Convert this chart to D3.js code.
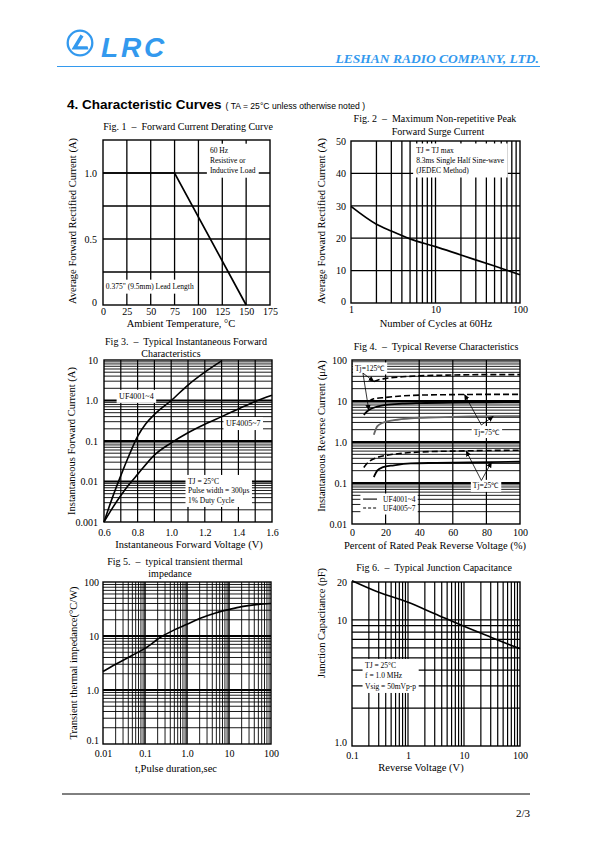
<!DOCTYPE html>
<html><head><meta charset="utf-8">
<script src="https://cdn.jsdelivr.net/npm/d3@7"></script>
<style>
body{margin:0;background:#fff}
</style></head><body>
<svg id="page" width="595" height="842"></svg>
<script>
// ================= DATA =================
// Fig 1 – Forward current derating
const fig1Temp = [0, 75, 150];
const fig1Current = [1.0, 1.0, 0];
const fig1XTicks = [0, 25, 50, 75, 100, 125, 150, 175];
const fig1YTicks = [0, 0.5, 1.0];
const fig1YLabels = ["0", "0.5", "1.0"];
const fig1YGrid = [0.25, 0.5, 0.75, 1.0];

// Fig 2 – Max non-repetitive peak forward surge current
const fig2Cycles = [1, 2, 3, 5, 10, 20, 50, 70, 100];
const fig2Current = [29.8, 24.3, 22.2, 19.8, 17.4, 14.8, 11.4, 10.1, 8.7];
const fig2XTicks = [1, 10, 100];
const fig2YTicks = [0, 10, 20, 30, 40, 50];

// Fig 3 – Typical instantaneous forward characteristics
const fig3V_A = [0.6, 0.65, 0.7, 0.75, 0.8, 0.85, 0.9, 1.0, 1.1, 1.2, 1.3];
const fig3I_A = [0.001, 0.004, 0.014, 0.045, 0.13, 0.27, 0.45, 1.0, 2.4, 5.0, 9.5];
const fig3V_B = [0.6, 0.65, 0.7, 0.75, 0.8, 0.9, 1.0, 1.1, 1.2, 1.3, 1.4, 1.5, 1.6];
const fig3I_B = [0.001, 0.0022, 0.0045, 0.0085, 0.015, 0.045, 0.09, 0.16, 0.26, 0.4, 0.62, 0.95, 1.35];
const fig3XTicks = [0.6, 0.8, 1.0, 1.2, 1.4, 1.6];
const fig3XLabels = ["0.6", "0.8", "1.0", "1.2", "1.4", "1.6"];
const fig3XGrid = [0.7, 0.8, 0.9, 1.0, 1.1, 1.2, 1.3, 1.4, 1.5];
const fig3YTicks = [0.001, 0.01, 0.1, 1, 10];
const fig3YLabels = ["0.001", "0.01", "0.1", "1.0", "10"];

// Fig 4 – Typical reverse characteristics (µA vs % of rated voltage)
const fig4Pct125A = [7, 10, 15, 20, 30, 40, 60, 80, 100];
const fig4Cur125A = [4.6, 6.0, 7.3, 8.0, 8.6, 8.9, 9.2, 9.3, 9.4];      // UF4001~4
const fig4Pct125B = [13, 16, 20, 30, 40, 60, 80, 100];
const fig4Cur125B = [30, 33, 35.5, 39, 41, 43, 44, 44];                 // UF4005~7
const fig4Pct75A = [13, 15, 18, 25, 35, 50, 70, 100];
const fig4Cur75A = [1.5, 2.4, 2.9, 3.4, 3.8, 4.0, 4.2, 4.3];
const fig4Pct75B = [10, 13, 20, 30, 40, 60, 80, 100];
const fig4Cur75B = [9.8, 11.3, 12.2, 13.3, 13.9, 14.3, 14.5, 14.5];
const fig4Pct25A = [13, 15, 18, 25, 35, 50, 70, 100];
const fig4Cur25A = [0.14, 0.2, 0.24, 0.27, 0.3, 0.31, 0.32, 0.33];
const fig4Pct25B = [7, 10, 15, 20, 30, 40, 60, 80, 100];
const fig4Cur25B = [0.24, 0.33, 0.42, 0.47, 0.53, 0.57, 0.6, 0.62, 0.63];
const fig4XTicks = [0, 20, 40, 60, 80, 100];
const fig4XGrid = [20, 40, 60, 80];
const fig4YTicks = [0.01, 0.1, 1, 10, 100];
const fig4YLabels = ["0.01", "0.1", "1.0", "10", "100"];

// Fig 5 – Typical transient thermal impedance
const fig5Time = [0.01, 0.02, 0.05, 0.1, 0.25, 0.5, 1, 2, 5, 10, 20, 50, 100];
const fig5Imp = [2.2, 3.0, 4.4, 5.9, 9.8, 13, 16.5, 21, 27, 31, 35, 38.5, 40];
const fig5XTicks = [0.01, 0.1, 1, 10, 100];
const fig5XLabels = ["0.01", "0.1", "1.0", "10", "100"];
const fig5YTicks = [0.1, 1, 10, 100];
const fig5YLabels = ["0.1", "1.0", "10", "100"];

// Fig 6 – Typical junction capacitance
const fig6Volt = [0.1, 0.3, 1, 3, 10, 30, 100];
const fig6Cap = [20.5, 16.6, 13.8, 11.2, 8.9, 7.3, 5.9];
const fig6XTicks = [0.1, 1, 10, 100];
const fig6XLabels = ["0.1", "1", "10", "100"];
const fig6YTicks = [1, 10, 20];
const fig6YLabels = ["1.0", "10", "20"];
const fig6YGrid = [2, 3, 4, 5, 6, 7, 8, 9, 10];

// ================= DRAWING =================
const SERIF = '"Liberation Serif","Times New Roman",serif';
const SANS = '"Liberation Sans",Arial,sans-serif';
const BLUE = '#3399ee';
const svg = d3.select('#page');
svg.append('rect').attr('width', 595).attr('height', 842).attr('fill', '#fff');

svg.append('defs').append('marker')
  .attr('id', 'arr').attr('viewBox', '0 0 8 8').attr('refX', 7).attr('refY', 4)
  .attr('markerWidth', 6).attr('markerHeight', 6).attr('markerUnits', 'userSpaceOnUse')
  .attr('orient', 'auto')
  .append('path').attr('d', 'M0,0.5 L8,4 L0,7.5 Z').attr('fill', '#000');

// ---- header ----
const logo = svg.append('g').attr('transform', 'translate(80,43)');
logo.append('circle').attr('r', 12.3).attr('fill', 'none').attr('stroke', BLUE).attr('stroke-width', 2.3);
logo.append('path').attr('d', 'M-8.5,6.5 L8.5,6.5 L7.5,3.3 L-2.5,3.3 L3.5,-6.5 L0.5,-8.5 Z M-2,-1 L-6,5 L-4,5 Z')
  .attr('fill', BLUE);
svg.append('text').attr('x', 101).attr('y', 56.5).text('LRC')
  .attr('font-family', SANS).attr('font-weight', 'bold').attr('font-style', 'italic')
  .attr('font-size', 28).attr('letter-spacing', 2.8).attr('fill', BLUE);
svg.append('text').attr('x', 539).attr('y', 62.5).attr('text-anchor', 'end')
  .text('LESHAN RADIO COMPANY, LTD.')
  .attr('font-family', SERIF).attr('font-weight', 'bold').attr('font-style', 'italic')
  .attr('font-size', 13.5).attr('fill', BLUE);
svg.append('line').attr('x1', 57).attr('x2', 540).attr('y1', 66.5).attr('y2', 66.5)
  .attr('stroke', BLUE).attr('stroke-width', 1.2);

const head = svg.append('text').attr('x', 67).attr('y', 109).text('4. Characteristic Curves')
  .attr('font-family', SANS).attr('font-weight', 'bold').attr('font-size', 13.5);
const hw = head.node().getComputedTextLength();
svg.append('text').attr('x', 67 + hw + 4).attr('y', 108.5).text('( TA = 25°C unless otherwise noted )')
  .attr('font-family', SANS).attr('font-size', 8.6);

// footer
svg.append('line').attr('x1', 62).attr('x2', 530).attr('y1', 794).attr('y2', 794)
  .attr('stroke', '#000').attr('stroke-width', 1);
svg.append('text').attr('x', 530).attr('y', 817).attr('text-anchor', 'end').text('2/3')
  .attr('font-family', SERIF).attr('font-size', 11);

// ---- helpers ----
function vGrid(g, xs, ys, vals, w) {
  g.append('g').selectAll('line').data(vals).join('line')
    .attr('x1', d => xs(d)).attr('x2', d => xs(d))
    .attr('y1', ys.range()[0]).attr('y2', ys.range()[1])
    .attr('stroke', '#000').attr('stroke-width', typeof w === 'function' ? w : () => w);
}
function hGrid(g, xs, ys, vals, w) {
  g.append('g').selectAll('line').data(vals).join('line')
    .attr('y1', d => ys(d)).attr('y2', d => ys(d))
    .attr('x1', xs.range()[0]).attr('x2', xs.range()[1])
    .attr('stroke', '#000').attr('stroke-width', typeof w === 'function' ? w : () => w);
}
function frame(g, xs, ys) {
  const [x0, x1] = xs.range(), [y0, y1] = ys.range();
  g.append('rect').attr('x', x0).attr('y', y1).attr('width', x1 - x0).attr('height', y0 - y1)
    .attr('fill', 'none').attr('stroke', '#000').attr('stroke-width', 1.4);
}
function styleAxis(a) {
  a.select('.domain').remove();
  a.attr('font-family', SERIF).attr('font-size', 10);
  a.selectAll('text').attr('fill', '#000');
  return a;
}
function xAxis(g, xs, ys, ticks, labels, pad) {
  const a = g.append('g').attr('transform', `translate(0,${ys.range()[0]})`)
    .call(d3.axisBottom(xs).tickValues(ticks).tickFormat((d, i) => labels[i]).tickSize(0).tickPadding(pad));
  return styleAxis(a);
}
function yAxis(g, xs, ys, ticks, labels, pad) {
  const a = g.append('g').attr('transform', `translate(${xs.range()[0]},0)`)
    .call(d3.axisLeft(ys).tickValues(ticks).tickFormat((d, i) => labels[i]).tickSize(0).tickPadding(pad));
  return styleAxis(a);
}
function titleLines(g, lines, cx, y0, lh) {
  lines.forEach((s, i) => g.append('text').attr('x', cx[i]).attr('y', y0 + i * lh)
    .attr('text-anchor', 'middle').attr('font-family', SERIF).attr('font-size', 10)
    .style('white-space', 'pre').text(s));
}
function xTitle(g, s, cx, y) {
  g.append('text').attr('x', cx).attr('y', y).attr('text-anchor', 'middle')
    .attr('font-family', SERIF).attr('font-size', 10.5).text(s);
}
function yTitle(g, s, x, cy) {
  g.append('text').attr('transform', `translate(${x},${cy}) rotate(-90)`).attr('text-anchor', 'middle')
    .attr('dy', '0.35em').attr('font-family', SERIF).attr('font-size', 10.5).text(s);
}
function note(g, lines, x, y, opt = {}) {
  const fs = opt.fs || 7.5, lh = opt.lh || 10, anchor = opt.anchor || 'start', p = opt.pad ?? 2.5;
  const bg = g.append('rect').attr('fill', '#fff');
  const t = g.append('text').attr('font-family', SERIF).attr('font-size', fs).attr('text-anchor', anchor);
  lines.forEach((s, i) => t.append('tspan').attr('x', x).attr('y', y + i * lh).text(s));
  const b = t.node().getBBox();
  bg.attr('x', b.x - p).attr('y', b.y - p + 0.5).attr('width', b.width + 2 * p).attr('height', b.height + 2 * p - 1);
  return b;
}
function curve(g, xs, ys, X, Y, opt = {}) {
  const line = d3.line().x(d => xs(d[0])).y(d => ys(d[1])).curve(opt.straight ? d3.curveLinear : d3.curveMonotoneX);
  g.append('path').attr('d', line(d3.zip(X, Y))).attr('fill', 'none')
    .attr('stroke', opt.color || '#000').attr('stroke-width', opt.w || 1.6)
    .attr('stroke-dasharray', opt.dash || null);
}
const logInner = s => s.ticks().filter(v => v > s.domain()[0] * 1.0001 && v < s.domain()[1] * 0.9999);
const isDecade = v => Math.abs(Math.log10(v) - Math.round(Math.log10(v))) < 1e-6;
function raiseFirst(a, dy) { a.selectAll('.tick text').filter((d, i) => i === 0).attr('dy', dy); }

// ---------- Fig 1 ----------
{
  const g = svg.append('g');
  const xs = d3.scaleLinear().domain([0, 175]).range([103, 270]);
  const ys = d3.scaleLinear().domain([0, 1.25]).range([305, 140]);
  vGrid(g, xs, ys, fig1XTicks.slice(1, -1), 1.3);
  hGrid(g, xs, ys, fig1YGrid, 1.3);
  note(g, ['60 Hz', 'Resistive or', 'Inductive Load'], xs(112), ys(1.15), { pad: 3 });
  note(g, ['0.375" (9.5mm) Lead Length'], xs(3), ys(0.12), { pad: 3 });
  curve(g, xs, ys, fig1Temp, fig1Current, { straight: true, w: 1.7 });
  frame(g, xs, ys);
  xAxis(g, xs, ys, fig1XTicks, fig1XTicks.map(String), 2.5);
  const ya = yAxis(g, xs, ys, fig1YTicks, fig1YLabels, 6);
  raiseFirst(ya, '0.05em');
  titleLines(g, ['Fig. 1  –  Forward Current Derating Curve'], [188], 130, 13);
  xTitle(g, 'Ambient Temperature, °C', 181, 326.5);
  yTitle(g, 'Average Forward Rectified Current (A)', 72, 221);
}

// ---------- Fig 2 ----------
{
  const g = svg.append('g');
  const xs = d3.scaleLog().domain([1, 100]).range([351, 520]);
  const ys = d3.scaleLinear().domain([0, 50]).range([303, 141]);
  vGrid(g, xs, ys, logInner(xs), 1.3);
  hGrid(g, xs, ys, fig2YTicks.slice(1, -1), 1.3);
  note(g, ['TJ = TJ max', '8.3ms Single Half Sine-wave', '(JEDEC Method)'], xs(5.9), ys(46.3), { pad: 3 });
  curve(g, xs, ys, fig2Cycles, fig2Current, { w: 1.7 });
  frame(g, xs, ys);
  xAxis(g, xs, ys, fig2XTicks, fig2XTicks.map(String), 3);
  const ya = yAxis(g, xs, ys, fig2YTicks, fig2YTicks.map(String), 5);
  raiseFirst(ya, '0.1em');
  titleLines(g, ['Fig. 2  –  Maximum Non-repetitive Peak', 'Forward Surge Current'], [435, 438], 122, 13);
  xTitle(g, 'Number of Cycles at 60Hz', 436, 326.5);
  yTitle(g, 'Average Forward Rectified Current (A)', 321, 221);
}

// ---------- Fig 3 ----------
{
  const g = svg.append('g');
  const xs = d3.scaleLinear().domain([0.6, 1.6]).range([104, 272]);
  const ys = d3.scaleLog().domain([0.001, 10]).range([522, 360]);
  vGrid(g, xs, ys, fig3XGrid, 1.2);
  hGrid(g, xs, ys, logInner(ys), d => isDecade(d) ? 1.8 : 0.9);
  note(g, ['UF4001~4'], xs(0.69), ys(1.1), { fs: 8, pad: 2.5 });
  note(g, ['UF4005~7'], xs(1.326), ys(0.234), { fs: 8, pad: 2.5 });
  note(g, ['TJ = 25°C', 'Pulse width = 300μs', '1% Duty Cycle'], xs(1.1), ys(0.0087), { fs: 7.5, lh: 9.5, pad: 2.5 });
  curve(g, xs, ys, fig3V_A, fig3I_A);
  curve(g, xs, ys, fig3V_B, fig3I_B);
  frame(g, xs, ys);
  xAxis(g, xs, ys, fig3XTicks, fig3XLabels, 7);
  yAxis(g, xs, ys, fig3YTicks, fig3YLabels, 6);
  titleLines(g, ['Fig 3.  –  Typical Instantaneous Forward', 'Characteristics'], [186, 171], 345, 11.5);
  xTitle(g, 'Instantaneous Forward Voltage (V)', 189, 548);
  yTitle(g, 'Instantaneous Forward Current (A)', 71, 441);
}

// ---------- Fig 4 ----------
{
  const g = svg.append('g');
  const xs = d3.scaleLinear().domain([0, 100]).range([352, 520]);
  const ys = d3.scaleLog().domain([0.01, 100]).range([524, 360]);
  vGrid(g, xs, ys, fig4XGrid, 1.2);
  hGrid(g, xs, ys, logInner(ys), d => isDecade(d) ? 1.8 : 0.9);
  note(g, ['Tj=125℃'], xs(1.8), ys(54), { fs: 7.5, pad: 2 });
  note(g, ['Tj=75℃'], xs(80), ys(1.52), { fs: 7.5, pad: 2, anchor: 'middle' });
  note(g, ['Tj=25℃'], xs(79.5), ys(0.074), { fs: 7.5, pad: 2, anchor: 'middle' });
  // legend
  const lb = note(g, ['UF4001~4', 'UF4005~7'], xs(18.5), ys(0.0344), { fs: 7.5, lh: 9, pad: 2 });
  g.append('rect').attr('x', xs(5)).attr('y', lb.y - 2).attr('width', xs(18.5) - xs(5)).attr('height', lb.height + 3).attr('fill', '#fff');
  g.append('line').attr('x1', xs(6.6)).attr('x2', xs(14.9)).attr('y1', ys(0.0405)).attr('y2', ys(0.0405)).attr('stroke', '#000').attr('stroke-width', 1.1);
  g.append('line').attr('x1', xs(6.6)).attr('x2', xs(14.9)).attr('y1', ys(0.0245)).attr('y2', ys(0.0245)).attr('stroke', '#000').attr('stroke-width', 1.1).attr('stroke-dasharray', '3,2');

  curve(g, xs, ys, fig4Pct125B, fig4Cur125B, { dash: '6,3' });
  curve(g, xs, ys, fig4Pct125A, fig4Cur125A, { w: 1.8 });
  curve(g, xs, ys, fig4Pct75B, fig4Cur75B, { dash: '6,3' });
  curve(g, xs, ys, fig4Pct75A, fig4Cur75A, { w: 1.8, color: '#666' });
  curve(g, xs, ys, fig4Pct25B, fig4Cur25B, { dash: '6,3' });
  curve(g, xs, ys, fig4Pct25A, fig4Cur25A, { w: 1.8 });

  const arrows = [
    [[6.5, 48], [13, 30]], [[6.5, 48], [10, 6.0]],
    [[77, 2.6], [67, 14.3]], [[77, 2.6], [84, 4.2]],
    [[77, 0.115], [68, 0.6]], [[77, 0.115], [83, 0.32]]
  ];
  g.append('g').selectAll('line').data(arrows).join('line')
    .attr('x1', d => xs(d[0][0])).attr('y1', d => ys(d[0][1]))
    .attr('x2', d => xs(d[1][0])).attr('y2', d => ys(d[1][1]))
    .attr('stroke', '#000').attr('stroke-width', 0.8).attr('marker-end', 'url(#arr)');

  frame(g, xs, ys);
  xAxis(g, xs, ys, fig4XTicks, fig4XTicks.map(String), 4.5);
  yAxis(g, xs, ys, fig4YTicks, fig4YLabels, 5);
  titleLines(g, ['Fig 4.  –  Typical Reverse Characteristics'], [436], 350, 12);
  xTitle(g, 'Percent of Rated Peak Reverse Voltage (%)', 435, 549);
  yTitle(g, 'Instantaneous Reverse Current (μA)', 321, 436);
}

// ---------- Fig 5 ----------
{
  const g = svg.append('g');
  const xs = d3.scaleLog().domain([0.01, 100]).range([103, 271]);
  const ys = d3.scaleLog().domain([0.1, 100]).range([744, 582]);
  vGrid(g, xs, ys, logInner(xs), d => isDecade(d) ? 1.5 : 0.9);
  hGrid(g, xs, ys, logInner(ys), d => isDecade(d) ? 1.8 : 0.9);
  curve(g, xs, ys, fig5Time, fig5Imp);
  frame(g, xs, ys);
  xAxis(g, xs, ys, fig5XTicks, fig5XLabels, 6);
  const ya = yAxis(g, xs, ys, fig5YTicks, fig5YLabels, 4);
  raiseFirst(ya, '-0.1em');
  titleLines(g, ['Fig 5.  –  typical transient thermal', 'impedance'], [175, 170], 565, 12);
  xTitle(g, 't,Pulse duration,sec', 176, 771.5);
  yTitle(g, 'Transient thermal impedance(°C/W)', 73, 663);
}

// ---------- Fig 6 ----------
{
  const g = svg.append('g');
  const xs = d3.scaleLog().domain([0.1, 100]).range([352, 520]);
  const ys = d3.scaleLog().domain([1, 20]).range([746, 582]);
  vGrid(g, xs, ys, logInner(xs), 1.2);
  hGrid(g, xs, ys, fig6YGrid, 1.2);
  note(g, ['TJ = 25°C', 'f = 1.0 MHz', 'Vsig = 50mVp-p'], xs(0.171), ys(4.16), { fs: 7.5, lh: 10.5, pad: 2.5 });
  curve(g, xs, ys, fig6Volt, fig6Cap);
  frame(g, xs, ys);
  xAxis(g, xs, ys, fig6XTicks, fig6XLabels, 6);
  const ya = yAxis(g, xs, ys, fig6YTicks, fig6YLabels, 5);
  raiseFirst(ya, '-0.1em');
  titleLines(g, ['Fig 6.  –  Typical Junction Capacitance'], [434], 571, 12);
  xTitle(g, 'Reverse Voltage (V)', 421, 771);
  yTitle(g, 'Junction Capacitance (pF)', 321, 623);
}
</script>
</body></html>
